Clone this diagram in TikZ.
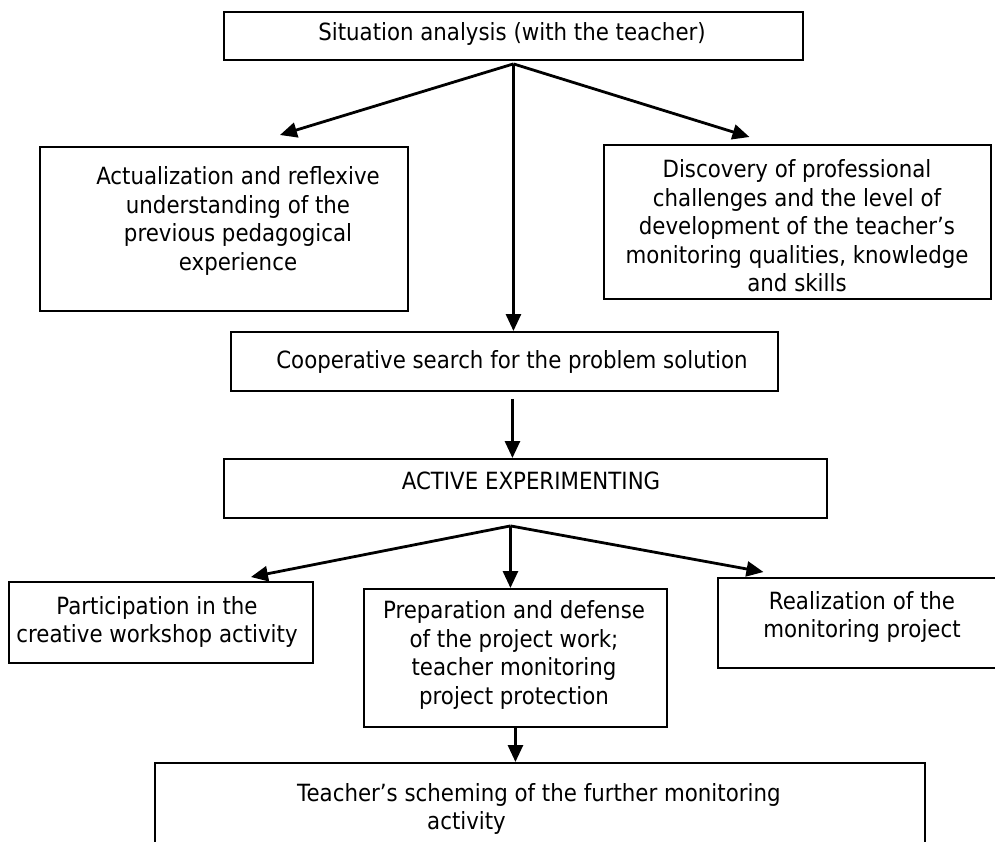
\documentclass[tikz,border=0pt]{standalone}
\usepackage{fontspec}
\setmainfont{DejaVu Sans}[FakeStretch=0.9]
\usetikzlibrary{arrows.meta}

\begin{document}
\begin{tikzpicture}[x=1pt, y=-1pt, font=\fontsize{23.7}{28.5}\selectfont,
    box/.style = {draw, line width=1.9pt, anchor=north west, inner sep=0pt},
    txt/.style = {align=center, inner sep=0pt},
    arr/.style = {line width=2.8pt, -{Triangle[length=17pt, width=15pt]}}]
    \useasboundingbox (0,0) rectangle (995,841);

    \node[box, minimum width=579pt, minimum height=48pt]  (1) at (223,11)  {};
    \node[box, minimum width=368pt, minimum height=164pt] (2) at (39,146)  {};
    \node[box, minimum width=387pt, minimum height=154pt] (3) at (603,144) {};
    \node[box, minimum width=547pt, minimum height=59pt]  (4) at (230,331) {};
    \node[box, minimum width=603pt, minimum height=59pt]  (5) at (223,458) {};
    \node[box, minimum width=304pt, minimum height=81pt]  (6) at (8,581)   {};
    \node[box, minimum width=303pt, minimum height=138pt] (7) at (363,588) {};
    \node[box, minimum width=291pt, minimum height=90pt]  (8) at (717,577) {};
    \node[box, minimum width=770pt, minimum height=130pt] (9) at (154,762) {};

    \node[txt] (1t) at (512,34)  {Situation analysis (with the teacher)};
    \node[txt] (2t) at (238,221) {Actualization and reflexive\\ understanding of the\\ previous pedagogical\\ experience};
    \node[txt] (3t) at (797,226) {Discovery of professional\\ challenges and the level of\\ development of the teacher’s\\ monitoring qualities, knowledge\\ and skills};
    \node[txt] (4t) at (512,362) {Cooperative search for the problem solution};
    \node[txt] (5t) at (531,481) {ACTIVE EXPERIMENTING};
    \node[txt] (6t) at (157,622) {Participation in the\\ creative workshop activity};
    \node[txt] (7t) at (514,655) {Preparation and defense\\ of the project work;\\ teacher monitoring\\ project protection};
    \node[txt] (8t) at (862,617) {Realization of the\\ monitoring project};
    \node[txt, align=left, anchor=west] (9t) at (297,809) {Teacher’s scheming of the further monitoring\\ \hspace*{130pt}activity};

    \coordinate (s) at ([yshift=-3pt]1.south);
    \draw[arr] (s) -- ([xshift=56pt, yshift=11pt]2.north);
    \draw[arr] (s) -- ([xshift=-48pt, yshift=7pt]3.north);
    \draw[arr] (s) -- (s |- 4.north);

    \draw[arr] ([xshift=8pt, yshift=-7pt]4.south) -- ([xshift=8pt]4.south |- 5.north);

    \coordinate (f) at ([xshift=-15pt, yshift=-7pt]5.south);
    \draw[arr] (f) -- ([xshift=90pt, yshift=4pt]6.north);
    \draw[arr] (f) -- (f |- 7.north);
    \draw[arr] (f) -- ([xshift=-100pt, yshift=5pt]8.north);

    \draw[arr] (7.south) -- (7.south |- 9.north);
\end{tikzpicture}
\end{document}
